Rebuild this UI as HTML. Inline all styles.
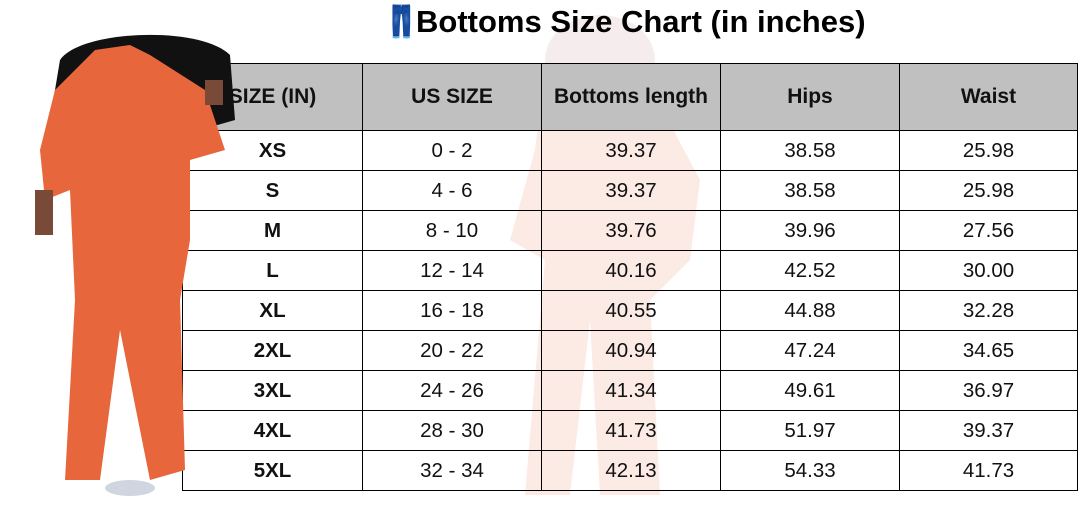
<!DOCTYPE html>
<html><head><style>
body{margin:0;width:1084px;height:516px;background:#fff;position:relative;overflow:hidden;font-family:"Liberation Sans",Arial,sans-serif}
.t{position:absolute;left:182px;top:63px;border-collapse:collapse;table-layout:fixed}
.t td{border:1.5px solid #000;text-align:center;font-size:20.5px;color:#111;padding:0}
.t tr{height:40px}
.t tr.h{height:67px}
.t tr.h td{background:#c0c0c0;font-weight:bold;font-size:21px}
.t td.b{font-weight:bold}
h1{position:absolute;left:382px;top:3px;margin:0;font-size:31px;font-weight:bold;color:#000;white-space:nowrap}
svg.p{position:absolute;left:0;top:0}
</style></head><body>
<svg class="p" width="1084" height="516">
<g opacity="0.18" fill="#f08a6a">
<ellipse cx="600" cy="60" rx="55" ry="45" fill="#c9a0a0"/>
<path d="M540 110 L660 105 L700 180 L690 260 L650 300 L660 495 L600 495 L590 320 L570 495 L525 495 L545 260 L510 240 L535 150Z"/>
</g>
</svg>
<h1><span style="color:#3a6fd8;display:inline-block;width:34px;text-align:center">👖</span>Bottoms Size Chart (in inches)</h1>
<table class="t">
<colgroup><col style="width:180px"><col style="width:179px"><col style="width:179px"><col style="width:179px"><col style="width:178px"></colgroup>
<tr class="h"><td>SIZE (IN)</td><td>US SIZE</td><td>Bottoms length</td><td>Hips</td><td>Waist</td></tr>
<tr><td class="b">XS</td><td>0 - 2</td><td>39.37</td><td>38.58</td><td>25.98</td></tr>
<tr><td class="b">S</td><td>4 - 6</td><td>39.37</td><td>38.58</td><td>25.98</td></tr>
<tr><td class="b">M</td><td>8 - 10</td><td>39.76</td><td>39.96</td><td>27.56</td></tr>
<tr><td class="b">L</td><td>12 - 14</td><td>40.16</td><td>42.52</td><td>30.00</td></tr>
<tr><td class="b">XL</td><td>16 - 18</td><td>40.55</td><td>44.88</td><td>32.28</td></tr>
<tr><td class="b">2XL</td><td>20 - 22</td><td>40.94</td><td>47.24</td><td>34.65</td></tr>
<tr><td class="b">3XL</td><td>24 - 26</td><td>41.34</td><td>49.61</td><td>36.97</td></tr>
<tr><td class="b">4XL</td><td>28 - 30</td><td>41.73</td><td>51.97</td><td>39.37</td></tr>
<tr><td class="b">5XL</td><td>32 - 34</td><td>42.13</td><td>54.33</td><td>41.73</td></tr>
</table>
<svg class="p" width="1084" height="516">
<path d="M60 60 C80 30 200 25 230 55 L235 120 L200 130 L90 130 L50 120Z" fill="#111"/>
<path d="M95 50 L130 45 L150 55 L205 90 L225 150 L190 160 L190 240 L180 300 L185 470 L150 480 L120 330 L100 480 L65 480 L75 300 L70 190 L45 200 L40 150 L55 90Z" fill="#e8663c"/>
<ellipse cx="130" cy="488" rx="25" ry="8" fill="#cfd6e0"/>
<rect x="35" y="190" width="18" height="45" fill="#7a4a38"/>
<rect x="205" y="80" width="18" height="25" fill="#7a4a38"/>
</svg>
</body></html>
